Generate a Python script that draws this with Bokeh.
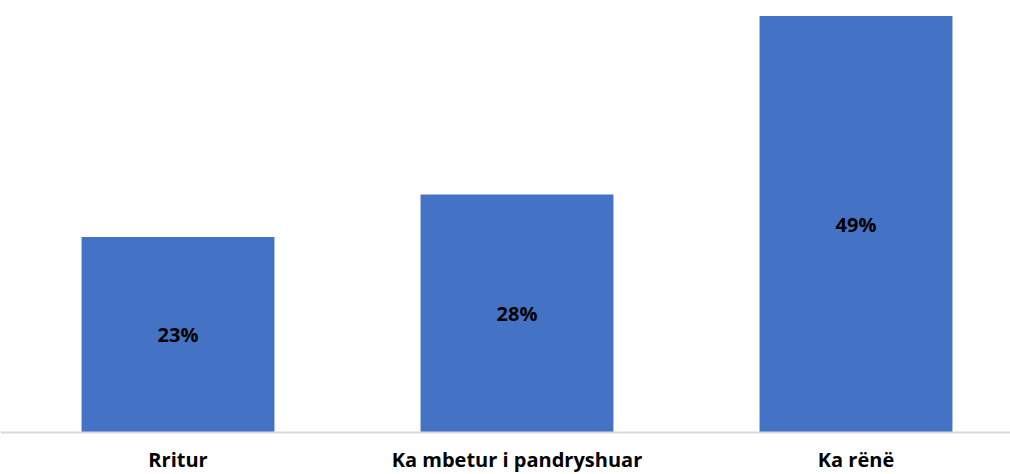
from bokeh.plotting import figure
from bokeh.models import Range1d, ColumnDataSource, Span
from bokeh.core.properties import value
from bokeh.embed import file_html
from bokeh.resources import INLINE

categories = ["Rritur", "Ka mbetur i pandryshuar", "Ka rënë"]
values = [23, 28, 49]
labels = ["23%", "28%", "49%"]

xs = list(range(len(categories)))
src = ColumnDataSource(dict(x=xs, top=values, mid=[v / 2 for v in values], lab=labels))
cat_src = ColumnDataSource(dict(x=xs, y=[-4.8] * len(xs), cat=categories))

p = figure(width=1010, height=474, output_backend="svg", toolbar_location=None,
           x_range=Range1d(-0.5236, 2.4558), y_range=Range1d(-4.941, 50.824),
           min_border=0, background_fill_color="white", border_fill_color="white")
p.vbar(x="x", top="top", bottom=0, width=0.569, source=src, fill_color="#4472C4", line_color=None)
p.text(x="x", y="mid", text="lab", source=src, text_align="center", text_baseline="middle",
       text_font=value("Open Sans"), text_font_style="bold", text_font_size="20px", text_color="black")
p.text(x="x", y="y", text="cat", source=cat_src, text_align="center", text_baseline="bottom",
       text_font=value("Open Sans"), text_font_style="bold", text_font_size="20px", text_color="black")
p.add_layout(Span(location=0, dimension="width", line_color="#D9D9D9", line_width=2))

p.xaxis.visible = False
p.yaxis.visible = False
p.xgrid.visible = False
p.ygrid.visible = False
p.outline_line_color = None

open("out.html", "w").write(file_html(p, INLINE))
